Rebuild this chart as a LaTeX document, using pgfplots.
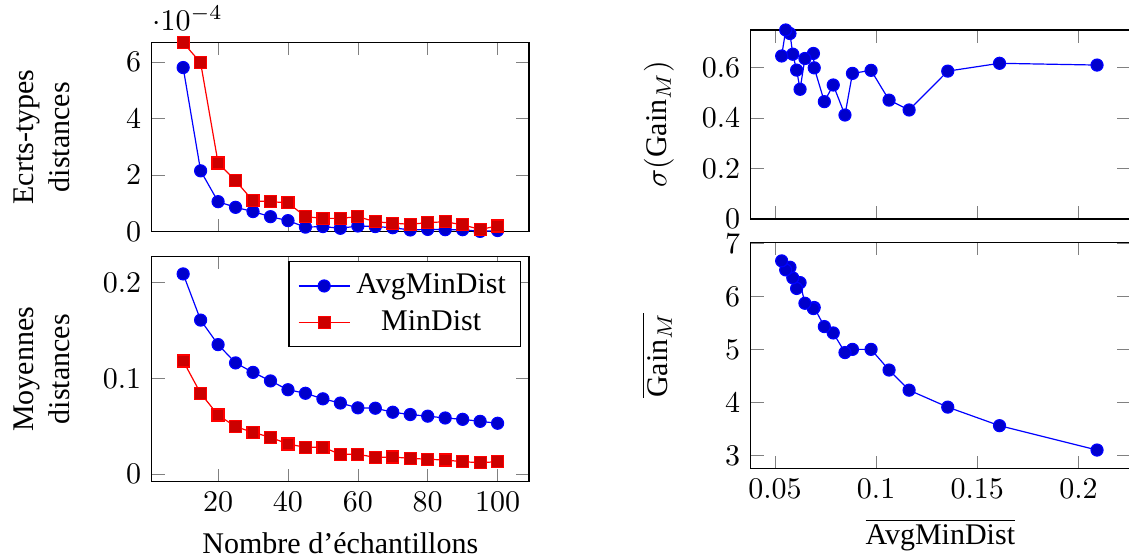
\documentclass[border=0pt]{standalone}
\usepackage{fontspec}
\setmainfont{Liberation Serif}
\usepackage{pgfplots}
\usepackage{pgfplotstable}
\pgfplotsset{compat=1.18}
\pgfplotstableread{
n avg sdavg mind sdmin gain sgain
10 0.2092 5.80e-4 0.1183 6.68e-4 3.10 0.610
15 0.1610 2.15e-4 0.0845 5.97e-4 3.56 0.617
20 0.1354 1.06e-4 0.0619 2.43e-4 3.91 0.586
25 0.1163 0.86e-4 0.0497 1.80e-4 4.23 0.432
30 0.1064 0.71e-4 0.0438 1.09e-4 4.61 0.471
35 0.0975 0.53e-4 0.0386 1.06e-4 5.00 0.589
40 0.0883 0.39e-4 0.0316 1.02e-4 5.00 0.577
45 0.0846 0.16e-4 0.0282 0.53e-4 4.94 0.412
50 0.0788 0.18e-4 0.0282 0.47e-4 5.31 0.531
55 0.0744 0.12e-4 0.0209 0.47e-4 5.43 0.465
60 0.0694 0.20e-4 0.0209 0.53e-4 5.79 0.599
65 0.0690 0.18e-4 0.0177 0.35e-4 5.77 0.656
70 0.0648 0.14e-4 0.0180 0.30e-4 5.87 0.636
75 0.0624 0.06e-4 0.0167 0.26e-4 6.26 0.514
80 0.0607 0.08e-4 0.0157 0.32e-4 6.15 0.590
85 0.0588 0.07e-4 0.0149 0.35e-4 6.35 0.653
90 0.0574 0.07e-4 0.0132 0.24e-4 6.55 0.735
95 0.0553 0.01e-4 0.0121 0.08e-4 6.50 0.749
100 0.0533 0.04e-4 0.0132 0.20e-4 6.67 0.646
}\data
\begin{document}
\begin{tikzpicture}
\pgfplotsset{every axis/.append style={scale only axis}}
% left top
\begin{axis}[at={(50.57pt,-14.22pt)}, anchor=north west,
  width=125.77pt, height=63pt,
  xmin=1, xmax=109, ymin=0, ymax=6.68e-4,
  xtick={20,40,60,80,100}, xticklabels={},
  ytick={0,2e-4,4e-4,6e-4},
  every y tick scale label/.append style={xshift=-3pt, yshift=2pt},
  ylabel={Ecrts-types\\distances},
  ylabel style={align=center, at={(axis description cs:-0.291,0.5)}, anchor=center}]
\addplot table[x=n,y=sdavg]{\data};
\addplot table[x=n,y=sdmin]{\data};
\end{axis}
% left bottom
\begin{axis}[at={(50.57pt,-85.56pt)}, anchor=north west,
  width=125.77pt, height=75pt,
  xmin=1, xmax=109, ymin=-0.0077, ymax=0.2272,
  xtick={20,40,60,80,100},
  ytick={0,0.1,0.2},
  xlabel={Nombre d’échantillons},
  ylabel={Moyennes\\distances},
  ylabel style={align=center, at={(axis description cs:-0.291,0.5)}, anchor=center},
  legend cell align=center]
\addplot table[x=n,y=avg]{\data};
\addplot table[x=n,y=mind]{\data};
\legend{AvgMinDist,MinDist}
\end{axis}
% right top
\begin{axis}[at={(250.23pt,-10pt)}, anchor=north west,
  width=126.43pt, height=63pt,
  xmin=0.038, xmax=0.2255, ymin=0, ymax=0.749,
  xtick={0.05,0.1,0.15,0.2}, xticklabels={},
  ytick={0,0.2,0.4,0.6},
  ylabel={$\sigma(\mathrm{Gain}_M)$},
  ylabel style={at={(axis description cs:-0.242,0.5)}, anchor=center}]
\addplot table[x=avg,y=sgain]{\data};
\end{axis}
% right bottom
\begin{axis}[at={(250.23pt,-80.78pt)}, anchor=north west,
  width=126.43pt, height=75.33pt,
  xmin=0.038, xmax=0.2255, ymin=2.755, ymax=7.02,
  xtick={0.05,0.1,0.15,0.2},
  scaled x ticks=false,
  xticklabel style={/pgf/number format/fixed, /pgf/number format/precision=2},
  ytick={3,4,5,6,7},
  xlabel={$\overline{\mbox{AvgMinDist}}$},
  ylabel={$\overline{\mathrm{Gain}_M}$},
  ylabel style={at={(axis description cs:-0.248,0.5)}, anchor=center}]
\addplot table[x=avg,y=gain]{\data};
\end{axis}
\pgfresetboundingbox
\path[use as bounding box] (0,0) rectangle (376.33pt,-186.33pt);
\end{tikzpicture}
\end{document}
